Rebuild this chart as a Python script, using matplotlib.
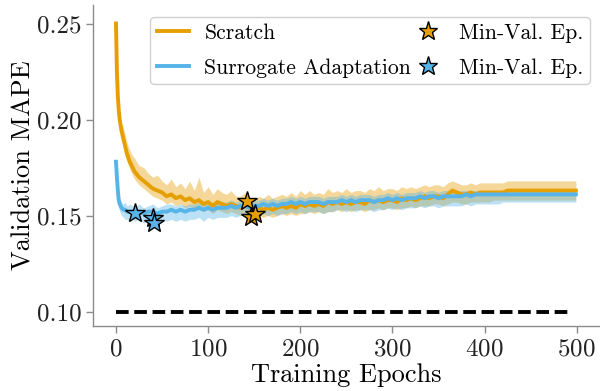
import matplotlib
matplotlib.use("Agg")
import matplotlib.pyplot as plt
from matplotlib.lines import Line2D

plt.rcParams['font.family'] = 'serif'
plt.rcParams['font.serif'] = ['cmr10']
plt.rcParams['mathtext.fontset'] = 'cm'
plt.rcParams['axes.formatter.use_mathtext'] = True

epochs = [0, 1, 2, 3, 4, 6, 8, 10, 12, 15, 18] + list(range(20, 500, 5)) + [499]

# Scratch (mean, upper, lower)
scratch_mean = [
    0.250, 0.225, 0.212, 0.205, 0.200, 0.194, 0.190, 0.186, 0.182, 0.178, 0.175,
    0.173, 0.170, 0.168, 0.166, 0.164, 0.163, 0.162, 0.160, 0.161, 0.159,
    0.160, 0.158, 0.159, 0.157, 0.158, 0.156, 0.157, 0.155, 0.157, 0.156,
    0.155, 0.156, 0.155, 0.154, 0.155, 0.154, 0.153, 0.154, 0.153, 0.154,
    0.153, 0.154, 0.155, 0.154, 0.155, 0.154, 0.156, 0.155, 0.156, 0.155,
    0.156, 0.155, 0.157, 0.156, 0.157, 0.156, 0.157, 0.156, 0.157, 0.157,
    0.156, 0.158, 0.157, 0.158, 0.157, 0.158, 0.158, 0.157, 0.159, 0.158,
    0.159, 0.158, 0.159, 0.160, 0.159, 0.160, 0.160, 0.159, 0.161, 0.163,
    0.162, 0.161, 0.161, 0.162, 0.161, 0.162, 0.162, 0.162, 0.162, 0.162,
    0.162, 0.163, 0.163, 0.163, 0.163, 0.163, 0.163, 0.163, 0.163, 0.163,
    0.163, 0.163, 0.163, 0.163, 0.163, 0.163, 0.163,
]
scratch_hi = [
    0.252, 0.230, 0.216, 0.210, 0.204, 0.198, 0.196, 0.192, 0.188, 0.184, 0.181,
    0.180, 0.176, 0.175, 0.172, 0.170, 0.171, 0.168, 0.166, 0.169, 0.165,
    0.167, 0.164, 0.168, 0.163, 0.170, 0.162, 0.165, 0.161, 0.164, 0.162,
    0.161, 0.163, 0.160, 0.160, 0.162, 0.159, 0.158, 0.160, 0.159, 0.161,
    0.159, 0.160, 0.161, 0.160, 0.162, 0.160, 0.163, 0.161, 0.163, 0.161,
    0.162, 0.161, 0.164, 0.162, 0.163, 0.162, 0.164, 0.162, 0.163, 0.163,
    0.162, 0.164, 0.163, 0.165, 0.163, 0.164, 0.164, 0.163, 0.165, 0.164,
    0.165, 0.164, 0.165, 0.166, 0.165, 0.166, 0.166, 0.165, 0.167, 0.168,
    0.167, 0.166, 0.166, 0.167, 0.166, 0.167, 0.167, 0.167, 0.167, 0.167,
    0.167, 0.168, 0.168, 0.168, 0.168, 0.168, 0.168, 0.168, 0.168, 0.168,
    0.168, 0.168, 0.168, 0.168, 0.168, 0.168, 0.168,
]
scratch_lo = [
    0.246, 0.220, 0.208, 0.200, 0.196, 0.190, 0.186, 0.181, 0.178, 0.174, 0.171,
    0.169, 0.166, 0.164, 0.162, 0.160, 0.159, 0.158, 0.156, 0.157, 0.155,
    0.156, 0.154, 0.155, 0.153, 0.154, 0.152, 0.153, 0.151, 0.153, 0.152,
    0.151, 0.152, 0.151, 0.150, 0.151, 0.150, 0.149, 0.150, 0.149, 0.150,
    0.149, 0.150, 0.151, 0.150, 0.151, 0.150, 0.151, 0.151, 0.152, 0.151,
    0.152, 0.151, 0.152, 0.152, 0.153, 0.152, 0.153, 0.152, 0.153, 0.153,
    0.152, 0.153, 0.153, 0.154, 0.153, 0.154, 0.154, 0.153, 0.154, 0.154,
    0.155, 0.154, 0.155, 0.155, 0.155, 0.156, 0.156, 0.155, 0.156, 0.157,
    0.157, 0.156, 0.156, 0.157, 0.157, 0.157, 0.157, 0.157, 0.158, 0.158,
    0.158, 0.158, 0.158, 0.158, 0.158, 0.158, 0.158, 0.158, 0.158, 0.158,
    0.158, 0.158, 0.158, 0.158, 0.158, 0.158, 0.158,
]

# Surrogate Adaptation (mean, upper, lower)
surr_mean = [
    0.178, 0.170, 0.163, 0.158, 0.156, 0.154, 0.153, 0.153, 0.152, 0.152, 0.152,
    0.151, 0.152, 0.151, 0.152, 0.152, 0.151, 0.152, 0.152, 0.153, 0.152,
    0.153, 0.152, 0.153, 0.153, 0.154, 0.153, 0.154, 0.153, 0.154, 0.154,
    0.154, 0.155, 0.154, 0.155, 0.155, 0.154, 0.155, 0.155, 0.156, 0.155,
    0.156, 0.155, 0.156, 0.156, 0.157, 0.156, 0.157, 0.156, 0.157, 0.157,
    0.157, 0.156, 0.157, 0.157, 0.157, 0.158, 0.157, 0.158, 0.157, 0.158,
    0.158, 0.158, 0.157, 0.158, 0.158, 0.159, 0.158, 0.159, 0.158, 0.159,
    0.159, 0.159, 0.160, 0.159, 0.160, 0.160, 0.159, 0.160, 0.160, 0.160,
    0.160, 0.160, 0.161, 0.160, 0.161, 0.161, 0.161, 0.161, 0.161, 0.161,
    0.161, 0.161, 0.161, 0.161, 0.161, 0.161, 0.161, 0.161, 0.161, 0.161,
    0.161, 0.161, 0.161, 0.161, 0.161, 0.161, 0.161,
]
surr_hi = [
    0.179, 0.172, 0.166, 0.161, 0.159, 0.157, 0.156, 0.157, 0.155, 0.156, 0.155,
    0.154, 0.156, 0.154, 0.155, 0.156, 0.154, 0.155, 0.156, 0.156, 0.155,
    0.156, 0.155, 0.156, 0.156, 0.157, 0.156, 0.157, 0.156, 0.157, 0.157,
    0.157, 0.158, 0.157, 0.158, 0.158, 0.157, 0.158, 0.158, 0.159, 0.158,
    0.159, 0.158, 0.159, 0.159, 0.160, 0.159, 0.160, 0.159, 0.160, 0.160,
    0.160, 0.159, 0.160, 0.160, 0.160, 0.161, 0.160, 0.161, 0.160, 0.161,
    0.161, 0.161, 0.160, 0.161, 0.161, 0.162, 0.161, 0.162, 0.161, 0.162,
    0.162, 0.162, 0.163, 0.162, 0.163, 0.163, 0.162, 0.163, 0.163, 0.163,
    0.163, 0.163, 0.163, 0.163, 0.163, 0.163, 0.163, 0.163, 0.163, 0.163,
    0.163, 0.163, 0.163, 0.163, 0.163, 0.163, 0.163, 0.163, 0.163, 0.163,
    0.163, 0.163, 0.163, 0.163, 0.163, 0.163, 0.163,
]
surr_lo = [
    0.177, 0.167, 0.159, 0.154, 0.152, 0.150, 0.149, 0.148, 0.148, 0.147, 0.148,
    0.147, 0.148, 0.146, 0.148, 0.147, 0.146, 0.148, 0.147, 0.148, 0.147,
    0.148, 0.147, 0.148, 0.148, 0.149, 0.147, 0.149, 0.148, 0.149, 0.149,
    0.149, 0.150, 0.149, 0.150, 0.150, 0.149, 0.150, 0.150, 0.151, 0.150,
    0.151, 0.150, 0.151, 0.151, 0.152, 0.151, 0.152, 0.151, 0.152, 0.152,
    0.152, 0.151, 0.152, 0.152, 0.153, 0.153, 0.152, 0.153, 0.152, 0.153,
    0.153, 0.153, 0.152, 0.153, 0.153, 0.154, 0.153, 0.154, 0.153, 0.154,
    0.154, 0.154, 0.155, 0.154, 0.155, 0.155, 0.154, 0.155, 0.155, 0.155,
    0.155, 0.155, 0.156, 0.155, 0.156, 0.156, 0.156, 0.156, 0.156, 0.156,
    0.157, 0.157, 0.157, 0.157, 0.157, 0.157, 0.157, 0.157, 0.157, 0.157,
    0.157, 0.157, 0.157, 0.157, 0.157, 0.157, 0.157,
]

# epochs / values of the minimum-validation checkpoints
scratch_star_ep = [142, 146, 151]
scratch_star_val = [0.1577, 0.1492, 0.1509]
surr_star_ep = [21, 40, 41]
surr_star_val = [0.1512, 0.1488, 0.1462]

baseline = 0.10
baseline_ep = [0, 495]

ORANGE = '#E69F00'
BLUE = '#56B4E9'
GRAY = '#8c8c8c'

fig = plt.figure(figsize=(6, 3.91), dpi=100)
ax = fig.add_axes([0.155, 0.166, 0.843, 0.821])

ax.fill_between(epochs, scratch_lo, scratch_hi, color=ORANGE, alpha=0.4, lw=0)
ax.fill_between(epochs, surr_lo, surr_hi, color=BLUE, alpha=0.4, lw=0)
ax.plot(epochs, scratch_mean, color=ORANGE, lw=2.8)
ax.plot(epochs, surr_mean, color=BLUE, lw=2.8)

ax.plot(scratch_star_ep, scratch_star_val, ls='none', marker='*', ms=15,
        mfc=ORANGE, mec='black', mew=1.0, zorder=5)
ax.plot(surr_star_ep, surr_star_val, ls='none', marker='*', ms=15,
        mfc=BLUE, mec='black', mew=1.0, zorder=5)

ax.plot(baseline_ep, [baseline, baseline], color='black', lw=2.8,
        dashes=(3.25, 1.45))

ax.set_xticks([0, 100, 200, 300, 400, 500])
ax.set_yticks([0.10, 0.15, 0.20, 0.25])
ax.set_yticklabels(['0.10', '0.15', '0.20', '0.25'])
ax.set_xlabel('Training Epochs', fontsize=19, labelpad=2)
ax.set_ylabel('Validation MAPE', fontsize=19, labelpad=1)
ax.tick_params(labelsize=18, colors=GRAY, labelcolor='#222222', length=5, width=1)

for s in ['top', 'right']:
    ax.spines[s].set_visible(False)
for s in ['left', 'bottom']:
    ax.spines[s].set_color(GRAY)
    ax.spines[s].set_linewidth(1.0)

handles = [
    Line2D([], [], color=ORANGE, lw=2.8),
    Line2D([], [], color=BLUE, lw=2.8),
    Line2D([], [], ls='none', marker='*', ms=14, mfc=ORANGE, mec='black', mew=1.0),
    Line2D([], [], ls='none', marker='*', ms=14, mfc=BLUE, mec='black', mew=1.0),
]
labels = ['Scratch', 'Surrogate Adaptation', 'Min-Val. Ep.', 'Min-Val. Ep.']
ax.legend(handles, labels, ncol=2, loc='upper right', fontsize=15.6,
          bbox_to_anchor=(0.982, 0.963), borderaxespad=0,
          handlelength=1.5, handletextpad=0.7,
          columnspacing=0.0, labelspacing=0.7, borderpad=0.3,
          frameon=True, edgecolor='#d0d0d0', framealpha=1.0, fancybox=True)

fig.savefig('out.png', dpi=100)
